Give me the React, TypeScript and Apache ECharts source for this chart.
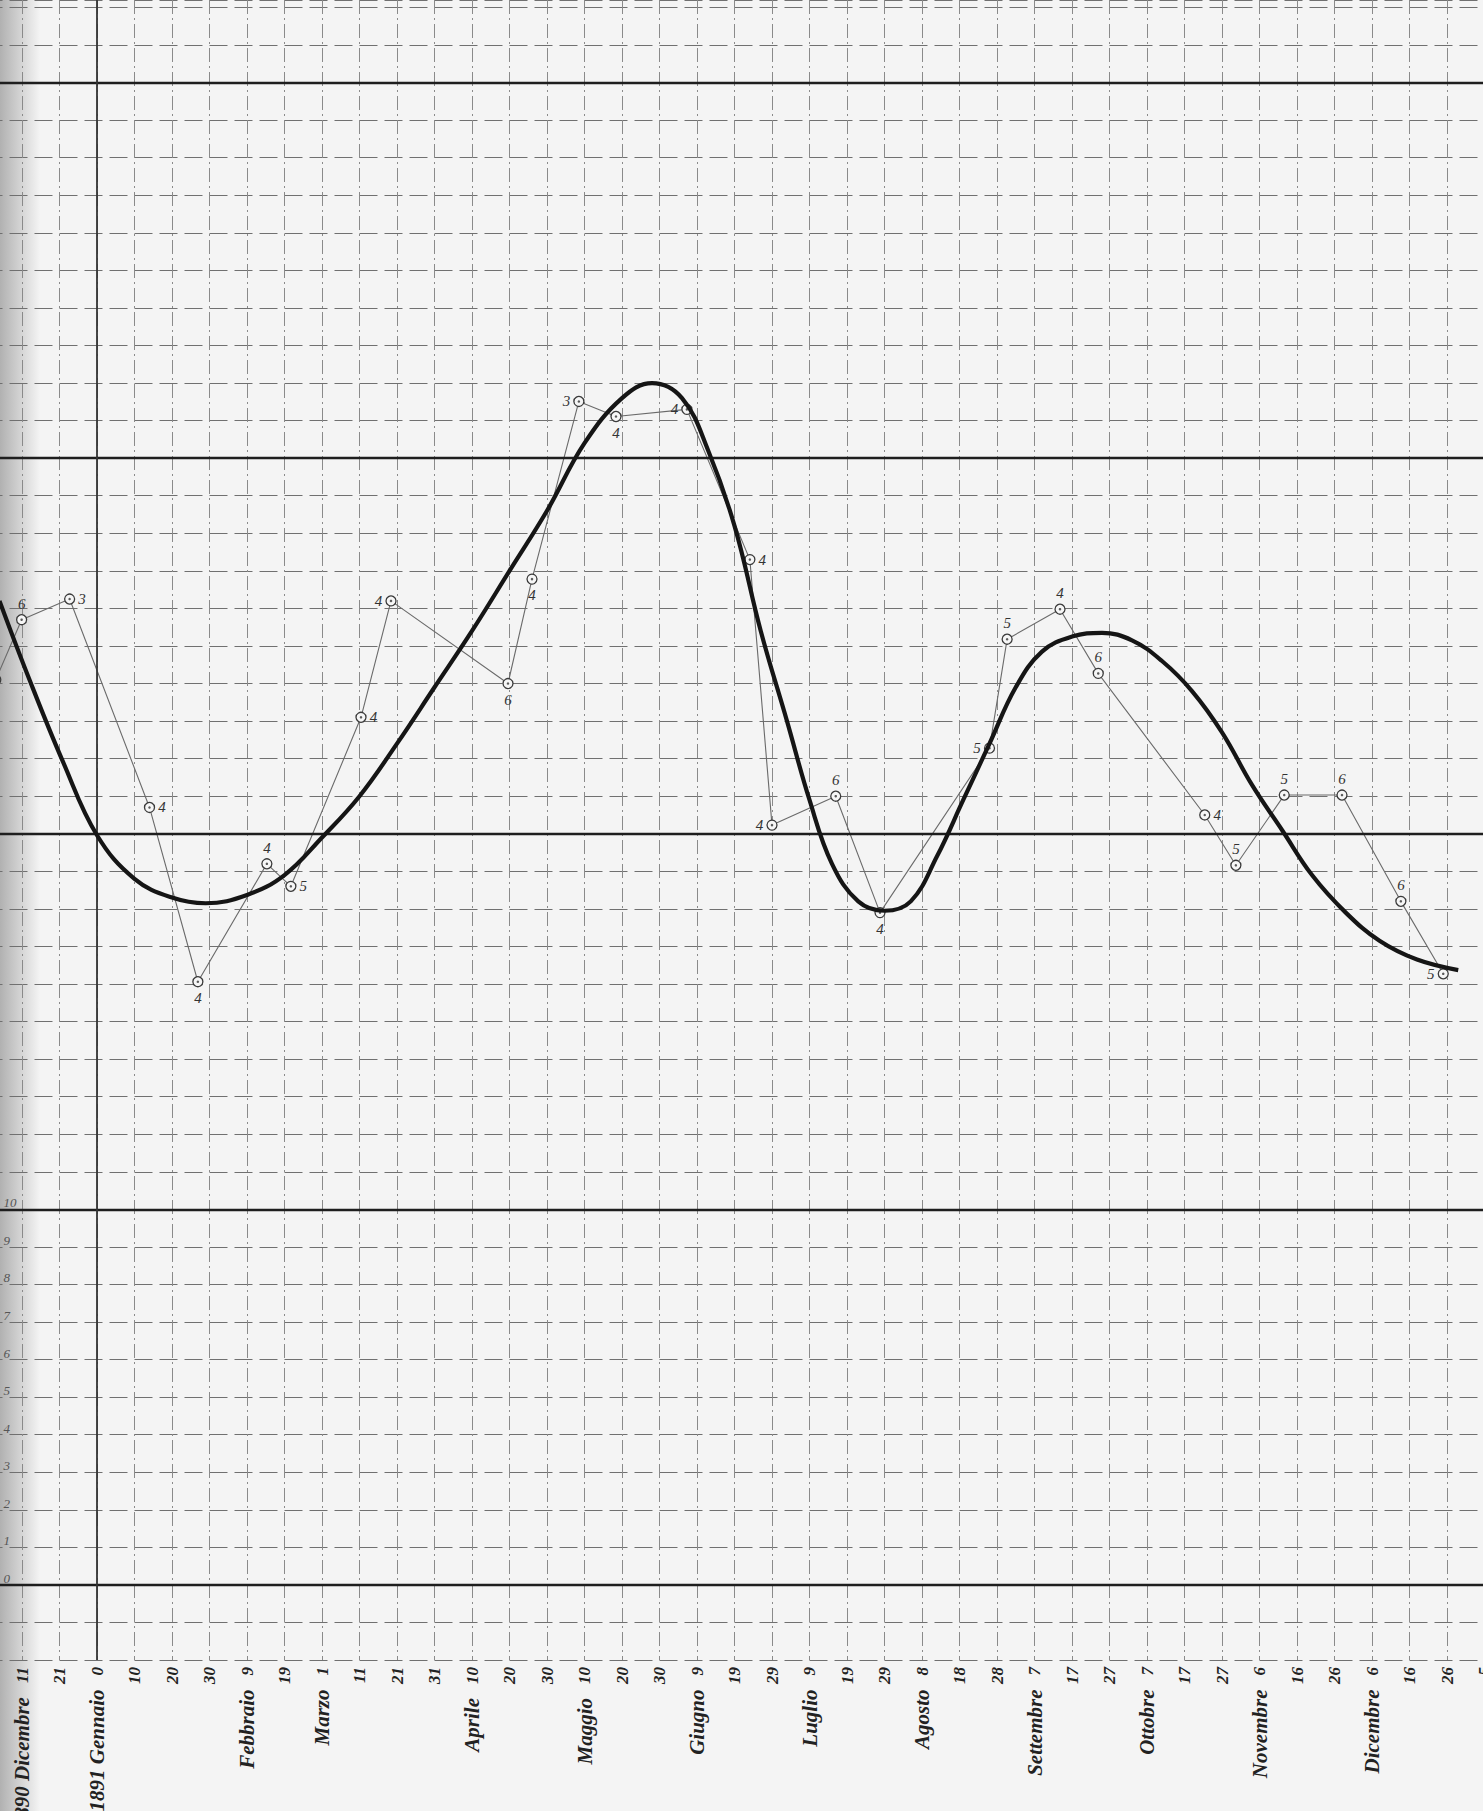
import React, { useEffect, useRef } from "react";
import * as echarts from "echarts";

// x values are days counted from "Gennaio 0" (31 Dec 1890); ticks every 10 days
const tickDays = [-30, -20, -10, 0, 10, 20, 30, 40, 50, 60, 70, 80, 90, 100, 110, 120, 130, 140, 150, 160, 170, 180, 190, 200, 210, 220, 230, 240, 250, 260, 270, 280, 290, 300, 310, 320, 330, 340, 350, 360, 370];
const tickLabels = ["", "11", "21", "0", "10", "20", "30", "9", "19", "1", "11", "21", "31", "10", "20", "30", "10", "20", "30", "9", "19", "29", "9", "19", "29", "8", "18", "28", "7", "17", "27", "7", "17", "27", "6", "16", "26", "6", "16", "26", "5"];
const monthDays = [-20, 0, 40, 60, 100, 130, 160, 190, 220, 250, 280, 310, 340];
const monthNames = ["1890 Dicembre", "1891 Gennaio", "Febbraio", "Marzo", "Aprile", "Maggio", "Giugno", "Luglio", "Agosto", "Settembre", "Ottobre", "Novembre", "Dicembre"];

// observed points (thin line)
const obsDays = [-27, -20.1, -7.3, 14, 26.9, 45.3, 51.7, 70.4, 78.4, 109.6, 116, 128.5, 138.4, 157.3, 174.1, 180, 197, 208.8, 238, 242.7, 256.8, 267, 295.4, 303.7, 316.6, 332, 347.7, 359];
const obsValues = [24.1, 25.7, 26.25, 20.7, 16.06, 19.2, 18.6, 23.1, 26.2, 24.0, 26.78, 31.51, 31.11, 31.3, 27.3, 20.23, 21.0, 17.9, 22.28, 25.18, 25.98, 24.27, 20.5, 19.16, 21.03, 21.03, 18.2, 16.27];
const obsLabels = ["", "6", "3", "4", "4", "4", "5", "4", "4", "6", "4", "3", "4", "4", "4", "4", "6", "4", "5", "5", "4", "6", "4", "5", "5", "6", "6", "5"];

// smoothed curve (thick line)
const curveDays = [-26, -18, -9, 0, 10, 20, 29, 40, 50, 60, 70, 80, 90, 100, 110, 120, 130, 140, 148, 156, 163, 170, 177, 184, 190, 196, 203, 210, 217, 224, 231, 238, 245, 252, 260, 268, 276, 284, 292, 300, 308, 316, 324, 333, 342, 352, 363];
const curveValues = [26.2, 24.1, 21.9, 19.96, 18.8, 18.3, 18.15, 18.37, 18.9, 19.9, 21.0, 22.4, 23.9, 25.4, 27.0, 28.6, 30.4, 31.6, 32.0, 31.6, 30.2, 28.2, 25.4, 23.0, 20.9, 19.2, 18.2, 17.95, 18.2, 19.4, 20.9, 22.4, 23.9, 24.85, 25.25, 25.35, 25.15, 24.6, 23.8, 22.7, 21.3, 20.1, 18.9, 17.9, 17.15, 16.65, 16.37];

const majorY = [0, 10, 20, 30, 40];
const majorX = [0];

// label placement for each observed point (style)
const obsLabelPos = ["top", "top", "right", "right", "bottom", "top", "right", "right", "left", "bottom", "bottom", "left", "bottom", "left", "right", "left", "top", "bottom", "left", "top", "top", "top", "right", "top", "top", "top", "top", "left"];

export default function App() {
  const ref = useRef<HTMLDivElement>(null);
  useEffect(() => {
    document.body.style.margin = "0";
    const chart = echarts.init(ref.current!, undefined, { renderer: "svg" });
    const labelFont = "'Liberation Serif', 'DejaVu Serif', serif";
    const obsData = obsDays.map((d, i) => ({
      value: [d, obsValues[i]],
      label: {
        show: obsLabels[i] !== "",
        formatter: obsLabels[i],
        position: obsLabelPos[i],
        distance: 3,
      },
    }));
    const option: any = {
      animation: false,
      backgroundColor: "#f4f4f4",
      grid: { left: -15.5, right: -1.5, top: 0, bottom: 151, containLabel: false, outerBoundsMode: "none" },
      xAxis: {
        type: "value",
        min: -30,
        max: 370,
        interval: 10,
        axisLine: { show: false },
        axisTick: { show: false },
        splitLine: { show: true, lineStyle: { color: "#8a8a8a", width: 1, type: [14, 4, 2, 4] } },
        axisLabel: {
          rotate: 90,
          margin: 7,
          showMinLabel: true,
          showMaxLabel: true,
          color: "#222",
          formatter: (v: number) => {
            const idx = tickDays.indexOf(Math.round(v));
            const num = idx >= 0 ? tickLabels[idx] : "";
            const mi = monthDays.indexOf(Math.round(v));
            if (mi >= 0) return `{m|${monthNames[mi]}}{g|}{n|${num}}`;
            return `{n|${num}}`;
          },
          rich: {
            n: { fontFamily: labelFont, fontStyle: "italic", fontWeight: "bold", fontSize: 17, color: "#222" },
            m: { fontFamily: labelFont, fontStyle: "italic", fontWeight: "bold", fontSize: 21, color: "#222" },
            g: { width: 14 },
          },
        },
      },
      yAxis: {
        type: "value",
        min: -2,
        max: 42.2,
        interval: 1,
        axisLine: { show: false },
        axisTick: { show: false },
        splitLine: { show: true, lineStyle: { color: "#707070", width: 1, type: [18, 7] } },
        axisLabel: {
          inside: true,
          margin: 19,
          color: "#555",
          fontFamily: labelFont,
          fontStyle: "italic",
          fontSize: 13,
          verticalAlign: "bottom",
          formatter: (v: number) => (v >= 0 && v <= 10 && Math.abs(v - Math.round(v)) < 1e-6 ? String(Math.round(v)) : ""),
        },
      },
      graphic: [
        {
          type: "rect",
          shape: { x: 0, y: 0, width: 40, height: 1811 },
          style: {
            fill: new echarts.graphic.LinearGradient(0, 0, 1, 0, [
              { offset: 0, color: "rgba(110,110,110,0.5)" },
              { offset: 1, color: "rgba(110,110,110,0)" },
            ]),
          },
          silent: true,
          z: -1,
        },
      ],
      series: [
        {
          type: "line",
          data: [],
          silent: true,
          markLine: {
            silent: true,
            symbol: "none",
            label: { show: false },
            lineStyle: { color: "#1e1e1e", width: 2.3, type: "solid" },
            data: [
              ...majorY.map((y) => ({ yAxis: y })),
              ...majorX.map((x) => ({ xAxis: x, lineStyle: { color: "#333", width: 1.8 } })),
            ],
          },
        },
        {
          type: "line",
          data: obsData,
          lineStyle: { color: "#6a6a6a", width: 1.1 },
          symbol: "circle",
          symbolSize: 10,
          itemStyle: { color: "#f6f6f6", borderColor: "#3a3a3a", borderWidth: 1.3 },
          label: {
            fontFamily: labelFont,
            fontStyle: "italic",
            fontSize: 15,
            color: "#333",
          },
          z: 3,
        },
        {
          type: "scatter",
          data: obsDays.map((d, i) => [d, obsValues[i]]),
          symbolSize: 2.5,
          itemStyle: { color: "#333" },
          silent: true,
          z: 4,
        },
        {
          type: "line",
          data: curveDays.map((d, i) => [d, curveValues[i]]),
          smooth: 0.4,
          symbol: "none",
          lineStyle: { color: "#151515", width: 4.2 },
          z: 5,
        },
      ],
    };
    chart.setOption(option);
    return () => chart.dispose();
  }, []);
  return <div ref={ref} style={{ width: 1483, height: 1811 }} />;
}
